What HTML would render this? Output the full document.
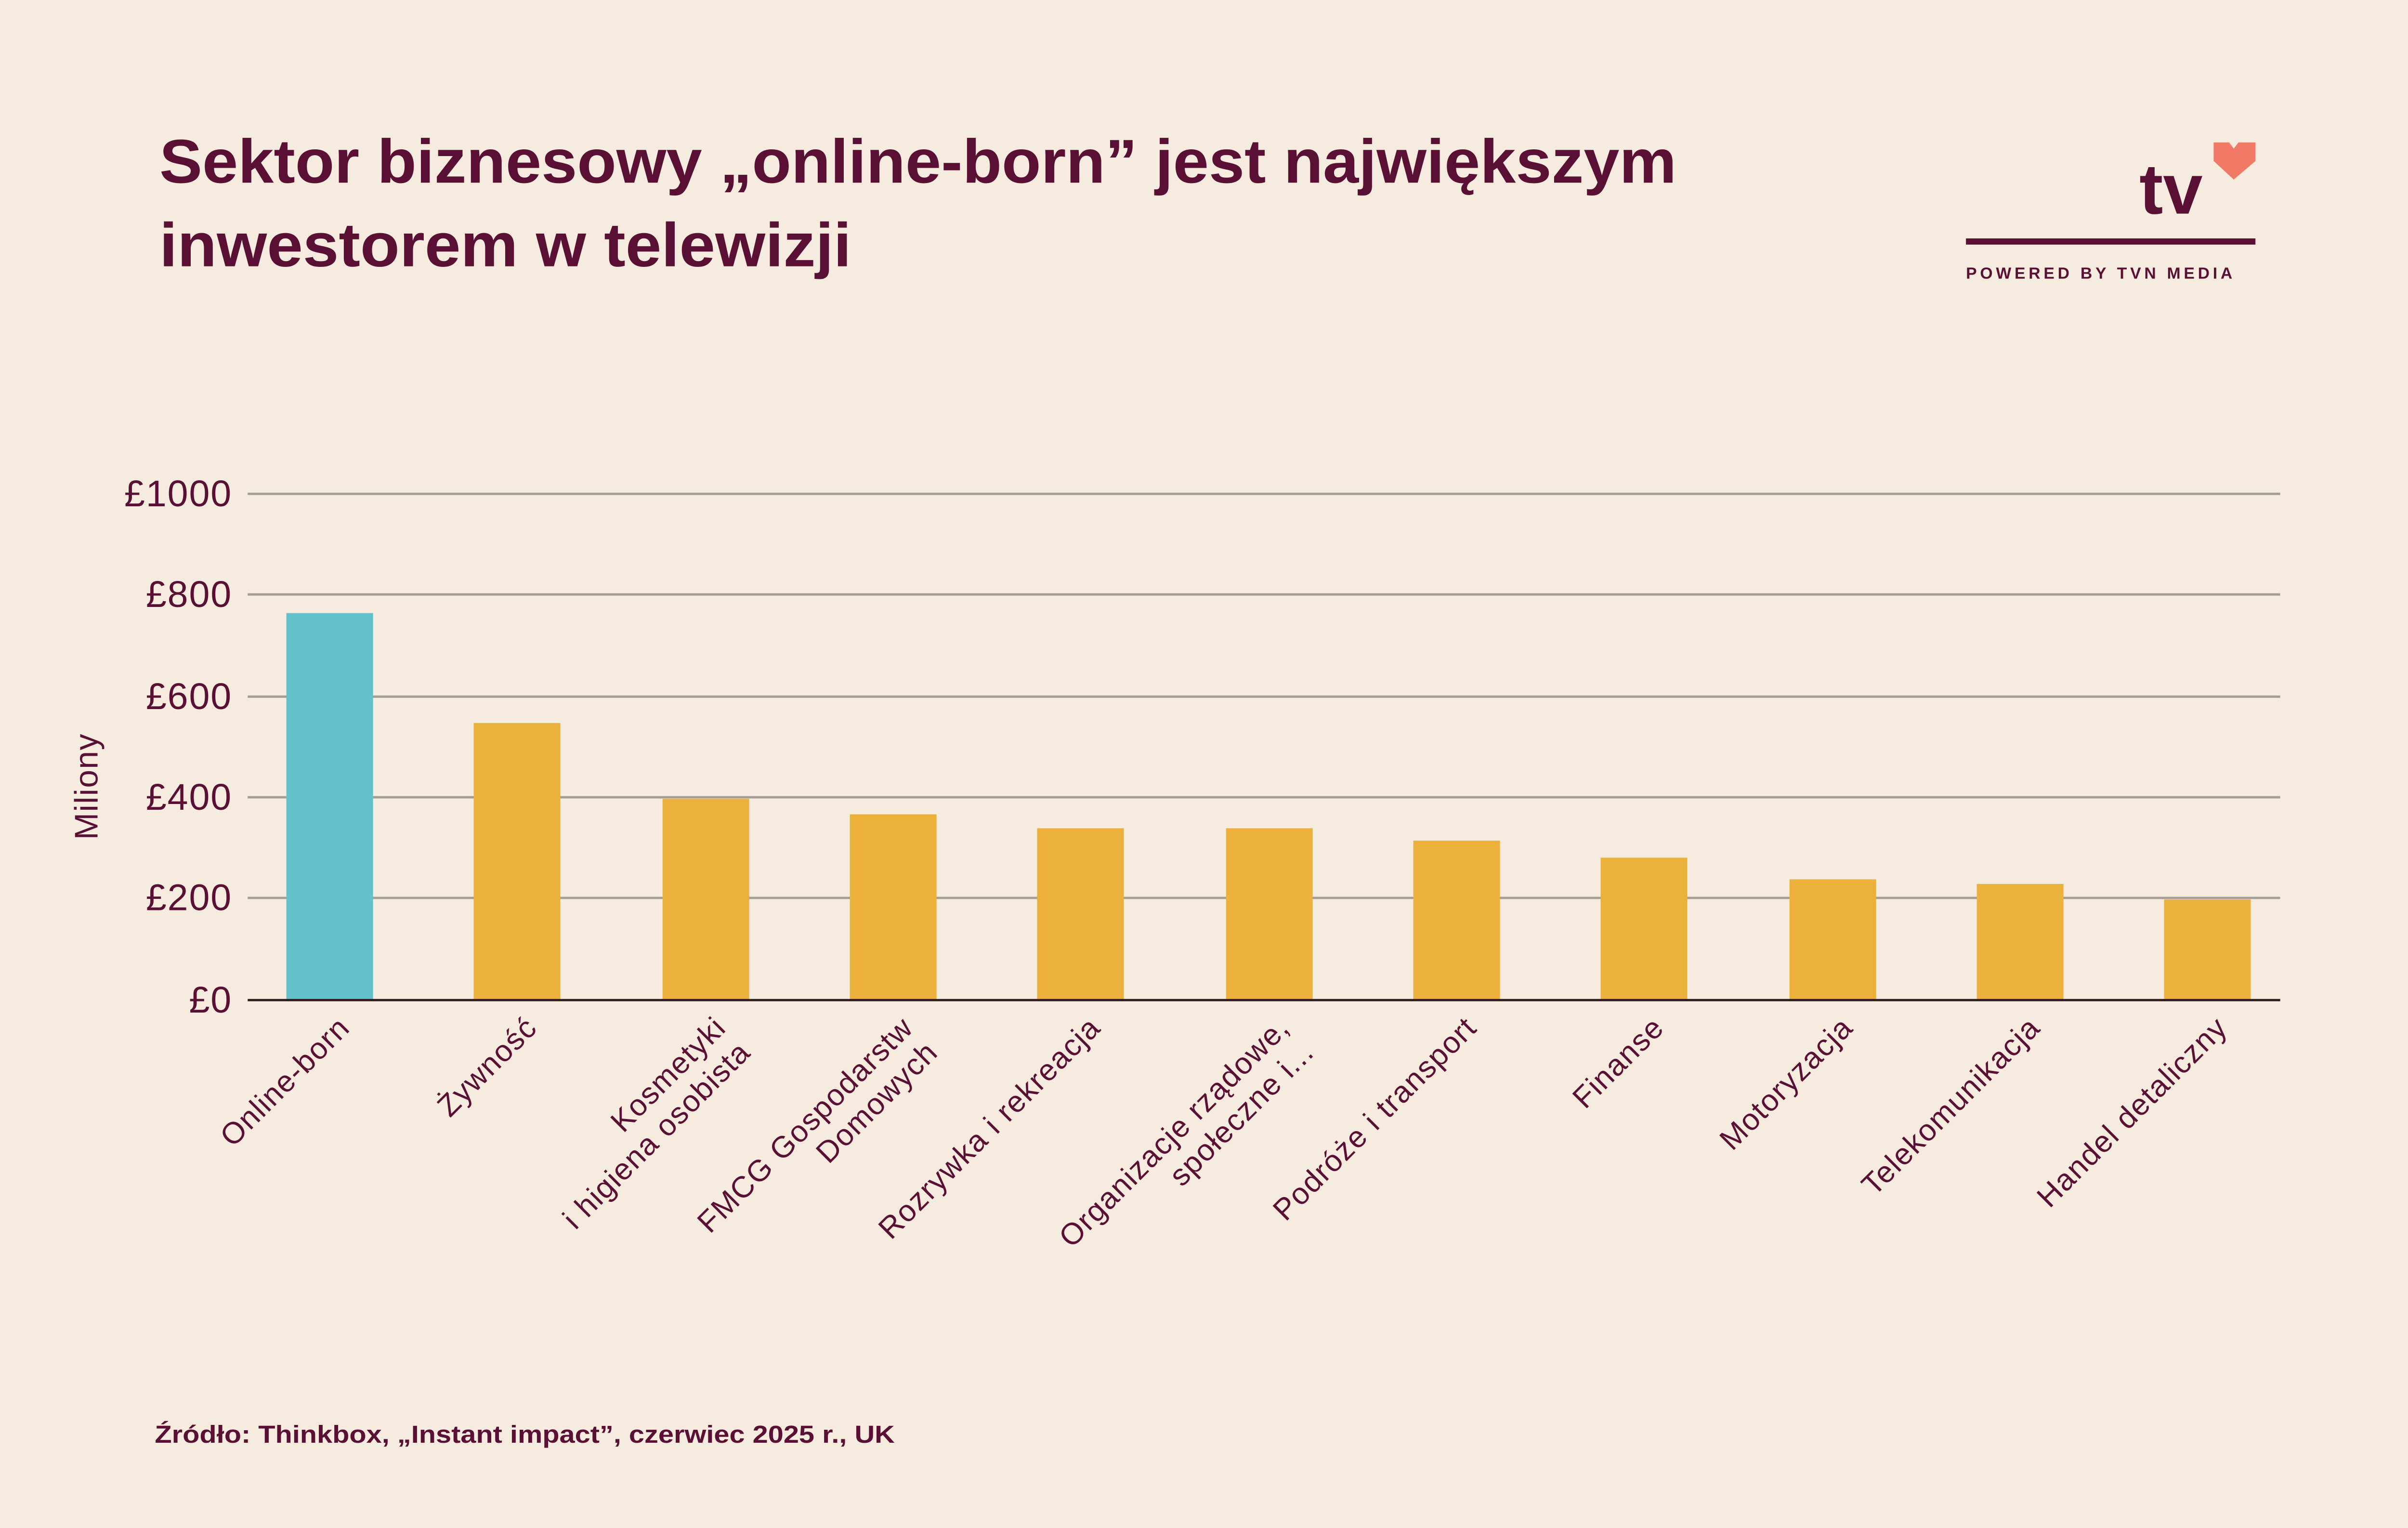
<!DOCTYPE html>
<html><head><meta charset="utf-8"><style>
html,body{margin:0;padding:0;background:#f5ecdf;}
svg{display:block;}
text{font-family:"Liberation Sans",sans-serif;fill:#5a1035;}
</style></head><body>
<svg width="5040" height="3172" viewBox="0 0 1568 987" preserveAspectRatio="none" xmlns="http://www.w3.org/2000/svg">
<rect width="1568" height="987" fill="#f5ecdf"/>
<text x="103" y="118" font-size="40" font-weight="bold" textLength="980" lengthAdjust="spacingAndGlyphs">Sektor biznesowy „online-born” jest największym</text>
<text x="103" y="172" font-size="40" font-weight="bold" textLength="447" lengthAdjust="spacingAndGlyphs">inwestorem w telewizji</text>
<!-- logo -->
<text x="1382" y="138" font-size="46" font-weight="bold">tv</text>
<path d="M1430 92 h10 l3 4 l3 -4 h11 v12 l-14 12 l-13 -12 z" fill="#f07a66"/>
<rect x="1270" y="154" width="187" height="4" fill="#5a1035"/>
<text x="1270" y="180" font-size="10.5" font-weight="bold" letter-spacing="2.1">POWERED BY TVN MEDIA</text>
<!-- grid -->
<g stroke="#a39d93" stroke-width="1.5">
<line x1="160" x2="1473" y1="319" y2="319"/>
<line x1="160" x2="1473" y1="384" y2="384"/>
<line x1="160" x2="1473" y1="450" y2="450"/>
<line x1="160" x2="1473" y1="515" y2="515"/>
<line x1="160" x2="1473" y1="580" y2="580"/>
</g>
<g font-size="24" text-anchor="end" letter-spacing="0.6">
<text x="150" y="327">£1000</text>
<text x="150" y="392">£800</text>
<text x="150" y="458">£600</text>
<text x="150" y="523">£400</text>
<text x="150" y="588">£200</text>
<text x="150" y="654">£0</text>
</g>
<text transform="translate(63,508) rotate(-90)" font-size="21" text-anchor="middle" letter-spacing="0.5">Miliony</text>
<!-- bars -->
<rect x="185" y="396" width="56" height="250" fill="#63c1cb"/>
<g fill="#ecb03c">
<rect x="306" y="467" width="56" height="179"/>
<rect x="428" y="516" width="56" height="130"/>
<rect x="549" y="526" width="56" height="120"/>
<rect x="670" y="535" width="56" height="111"/>
<rect x="792" y="535" width="56" height="111"/>
<rect x="913" y="543" width="56" height="103"/>
<rect x="1034" y="554" width="56" height="92"/>
<rect x="1156" y="568" width="56" height="78"/>
<rect x="1277" y="571" width="56" height="75"/>
<rect x="1398" y="581" width="56" height="65"/>
</g>
<line x1="160" x2="1473" y1="646" y2="646" stroke="#2a1a1a" stroke-width="1.5"/>
<!-- x labels -->
<g font-size="19.5" text-anchor="end" letter-spacing="0.6">
<text transform="translate(227,665) rotate(-45)">Online-born</text>
<text transform="translate(348,665) rotate(-45)">Żywność</text>
<text transform="translate(470,665) rotate(-45)"><tspan x="0" dy="0">Kosmetyki</tspan><tspan x="0" dy="1.15em">i higiena osobista</tspan></text>
<text transform="translate(591,665) rotate(-45)"><tspan x="0" dy="0">FMCG Gospodarstw</tspan><tspan x="0" dy="1.15em">Domowych</tspan></text>
<text transform="translate(712,665) rotate(-45)">Rozrywka i rekreacja</text>
<text transform="translate(834,665) rotate(-45)"><tspan x="0" dy="0">Organizacje rządowe,</tspan><tspan x="0" dy="1.15em">społeczne i...</tspan></text>
<text transform="translate(955,665) rotate(-45)">Podróże i transport</text>
<text transform="translate(1076,665) rotate(-45)">Finanse</text>
<text transform="translate(1198,665) rotate(-45)">Motoryzacja</text>
<text transform="translate(1319,665) rotate(-45)">Telekomunikacja</text>
<text transform="translate(1440,665) rotate(-45)">Handel detaliczny</text>
</g>
<text x="100" y="932" font-size="16" font-weight="bold" textLength="478" lengthAdjust="spacingAndGlyphs">Źródło: Thinkbox, „Instant impact”, czerwiec 2025 r., UK</text>
</svg>
</body></html>
